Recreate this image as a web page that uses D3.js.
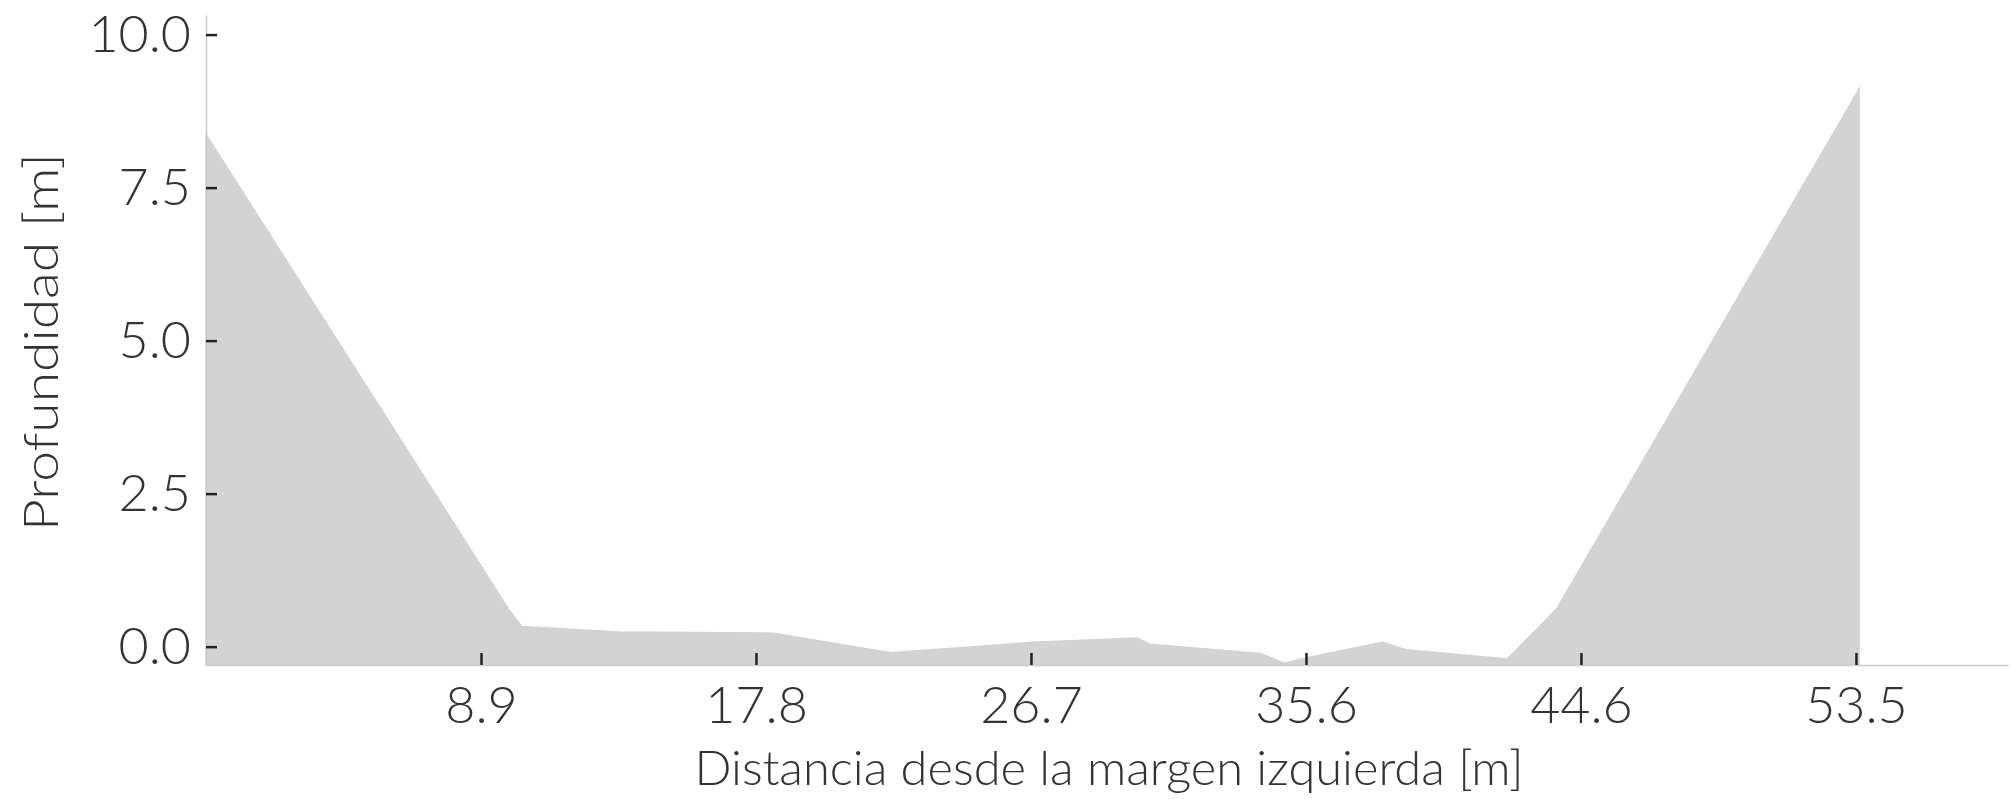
<!DOCTYPE html>
<html>
<head>
<meta charset="utf-8">
<script src="https://cdn.jsdelivr.net/npm/d3@7"></script>
<style>
  body { margin: 0; background: #fff; }
  text { font-family: Lato, "Open Sans", sans-serif; font-weight: 300; fill: #333; }
</style>
</head>
<body>
<script>
// Cross-section profile: distance from left bank [m] and depth [m]
const distance = [0, 9.8, 10.24, 13.4, 18.4, 22.2, 26.8, 30.2, 30.6, 34.2, 34.95, 35.8, 38.15, 38.9, 42.2, 43.8, 53.6];
const depth    = [8.37, 0.62, 0.33, 0.24, 0.22, -0.10, 0.07, 0.14, 0.04, -0.11, -0.27, -0.17, 0.07, -0.05, -0.20, 0.62, 9.11];

const xTickValues = [8.917, 17.833, 26.75, 35.667, 44.583, 53.5];
const xTickLabels = ['8.9', '17.8', '26.7', '35.6', '44.6', '53.5'];
const yTickValues = [0, 2.5, 5, 7.5, 10];

const profile = distance.map((d, i) => ({ x: d, y: depth[i] }));

let width = 2016, height = 800;

let margin = {
    top: 15,
    bottom: 135,
    left: 206,
    right: 8
};

let svg = d3
    .select('body')
    .append('svg')
    .attr('width', width)
    .attr('height', height);

// Scales
let xScale = d3.scaleLinear()
    .domain([0, 58.43])
    .range([margin.left, width - margin.right]);

let yScale = d3.scaleLinear()
    .domain([-0.3, 10.32])
    .range([height - margin.bottom, margin.top]);

// Filled profile
let area = d3.area()
    .x(d => xScale(d.x))
    .y0(yScale(yScale.domain()[0]))
    .y1(d => yScale(d.y));

svg.append('path')
    .datum(profile)
    .attr('d', area)
    .attr('fill', '#d3d3d3')
    .attr('stroke', '#cbd4d8')
    .attr('stroke-width', 1.5);

// Y axis
let yAxis = svg
    .append('g')
    .attr('transform', `translate(${margin.left},0)`)
    .call(d3.axisLeft(yScale)
        .tickValues(yTickValues)
        .tickFormat(d3.format('.1f'))
        .tickSizeInner(-11)
        .tickSizeOuter(0)
        .tickPadding(15));

// X axis
let xAxis = svg
    .append('g')
    .attr('transform', `translate(0,${height - margin.bottom})`)
    .call(d3.axisBottom(xScale)
        .tickValues(xTickValues)
        .tickFormat((d, i) => xTickLabels[i])
        .tickSizeInner(-12)
        .tickSizeOuter(0)
        .tickPadding(21));

[xAxis, yAxis].forEach(ax => {
    ax.select('.domain').attr('stroke', '#cccccc').attr('stroke-width', 1.5);
    ax.selectAll('.tick line').attr('stroke', '#222').attr('stroke-width', 2.5);
    ax.selectAll('.tick text').style('font-size', '52px').style('fill', '#333');
});

// Axis titles
svg.append('text')
    .attr('x', 1109)
    .attr('y', 785)
    .attr('text-anchor', 'middle')
    .attr('textLength', 829)
    .attr('lengthAdjust', 'spacingAndGlyphs')
    .style('font-size', '48px')
    .text('Distancia desde la margen izquierda [m]');

svg.append('text')
    .attr('transform', 'translate(58,342) rotate(-90)')
    .attr('text-anchor', 'middle')
    .attr('textLength', 378)
    .attr('lengthAdjust', 'spacingAndGlyphs')
    .style('font-size', '48px')
    .text('Profundidad [m]');
</script>
</body>
</html>
